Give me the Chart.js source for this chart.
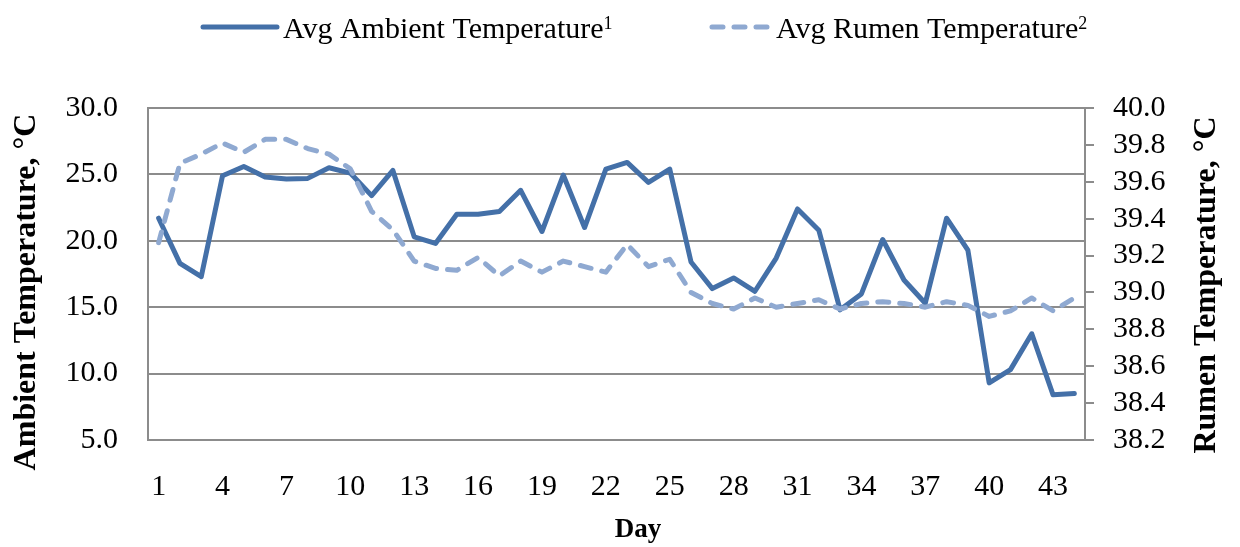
<!DOCTYPE html>
<html>
<head>
<meta charset="utf-8">
<title>Ambient and rumen temperature</title>
<script src="https://cdn.jsdelivr.net/npm/chart.js@4/dist/chart.umd.min.js"></script>
<style>
  html, body { margin: 0; padding: 0; background: #ffffff; }
  #wrap { width: 1240px; height: 547px; }
</style>
</head>
<body>
<div id="wrap"><canvas id="tempChart" width="1240" height="547"></canvas></div>
<script>
// Data
const days = [1, 2, 3, 4, 5, 6, 7, 8, 9, 10, 11, 12, 13, 14, 15, 16, 17, 18, 19, 20, 21, 22,
  23, 24, 25, 26, 27, 28, 29, 30, 31, 32, 33, 34, 35, 36, 37, 38, 39, 40, 41, 42, 43, 44];
const ambientTemp = [21.7, 18.3, 17.3, 24.9, 25.6, 24.8, 24.65, 24.7, 25.5, 25.1, 23.4, 25.3,
  20.3, 19.8, 22.0, 22.0, 22.2, 23.8, 20.7, 24.95, 21.0, 25.4, 25.9, 24.4, 25.4, 18.4, 16.4,
  17.2, 16.2, 18.7, 22.4, 20.8, 14.8, 16.0, 20.1, 17.05, 15.3, 21.7, 19.3, 9.3, 10.3, 13.0, 8.4, 8.5];
const rumenTemp = [39.27, 39.70, 39.75, 39.81, 39.76, 39.83, 39.83, 39.78, 39.75, 39.67, 39.44,
  39.34, 39.17, 39.13, 39.12, 39.19, 39.09, 39.17, 39.11, 39.17, 39.14, 39.11, 39.26, 39.14,
  39.18, 39.00, 38.94, 38.91, 38.97, 38.92, 38.94, 38.96, 38.91, 38.94, 38.95, 38.94, 38.92,
  38.95, 38.93, 38.87, 38.90, 38.97, 38.90, 38.97];
const seriesLabels = ["Avg Ambient Temperature", "Avg Rumen Temperature"];
const seriesNotes = ["1", "2"];
const ambientTicks = { min: 5, max: 30, step: 5 };
const rumenTicks = { min: 38.2, max: 40, step: 0.2 };
const axisTitles = { left: "Ambient Temperature, °C", right: "Rumen Temperature, °C", bottom: "Day" };

const SERIF = '"Liberation Serif", "Times New Roman", serif';
const GRID = "#8c8c8c";
const AMBIENT_COLOR = "#4470a8";
const RUMEN_COLOR = "#8fa9d1";

// Legend drawn on the canvas, with superscript notes
const legendPlugin = {
  id: "topLegend",
  afterDraw(chart) {
    const ctx = chart.ctx;
    const items = [
      { x0: 203, x1: 277 },
      { x0: 712, x1: 770 }
    ];
    const y = 27;
    ctx.save();
    items.forEach((item, i) => {
      const ds = chart.data.datasets[i];
      ctx.strokeStyle = ds.borderColor;
      ctx.lineWidth = 5;
      ctx.lineCap = "round";
      ctx.setLineDash(ds.borderDash || []);
      ctx.beginPath();
      ctx.moveTo(item.x0, y);
      ctx.lineTo(item.x1, y);
      ctx.stroke();
      ctx.setLineDash([]);

      ctx.fillStyle = "#000000";
      ctx.textBaseline = "alphabetic";
      ctx.textAlign = "left";
      ctx.font = "30px " + SERIF;
      const tx = item.x1 + 6;
      ctx.fillText(seriesLabels[i], tx, 38);
      const w = ctx.measureText(seriesLabels[i]).width;
      ctx.font = "18px " + SERIF;
      ctx.fillText(seriesNotes[i], tx + w, 29);
    });
    ctx.restore();
  }
};

// Axis titles placed like the reference (both vertical titles read upward)
const titlePlugin = {
  id: "axisTitles",
  afterDraw(chart) {
    const ctx = chart.ctx;
    ctx.save();
    ctx.fillStyle = "#000000";
    ctx.textAlign = "center";
    ctx.textBaseline = "middle";
    ctx.font = "bold 32px " + SERIF;

    ctx.save();
    ctx.translate(27, 292);
    ctx.rotate(-Math.PI / 2);
    ctx.fillText(axisTitles.left, 0, 0);
    ctx.restore();

    ctx.save();
    ctx.translate(1207, 285);
    ctx.rotate(-Math.PI / 2);
    ctx.fillText(axisTitles.right, 0, 0);
    ctx.restore();

    ctx.font = "bold 27px " + SERIF;
    ctx.fillText(axisTitles.bottom, 638, 530);
    ctx.restore();
  }
};

const chart = new Chart(document.getElementById("tempChart").getContext("2d"), {
  type: "line",
  data: {
    labels: days,
    datasets: [
      {
        label: seriesLabels[0],
        data: ambientTemp,
        yAxisID: "y",
        borderColor: AMBIENT_COLOR,
        backgroundColor: AMBIENT_COLOR,
        borderWidth: 5,
        borderCapStyle: "round",
        borderJoinStyle: "round",
        pointRadius: 0,
        tension: 0,
        order: 1
      },
      {
        label: seriesLabels[1],
        data: rumenTemp,
        yAxisID: "y1",
        borderColor: RUMEN_COLOR,
        backgroundColor: RUMEN_COLOR,
        borderWidth: 5,
        borderDash: [11, 11],
        borderCapStyle: "round",
        borderJoinStyle: "round",
        pointRadius: 0,
        tension: 0,
        order: 0
      }
    ]
  },
  options: {
    responsive: false,
    animation: false,
    devicePixelRatio: 1,
    layout: { padding: { top: 108, left: 0, right: 0, bottom: 0 } },
    plugins: {
      legend: { display: false },
      tooltip: { enabled: false },
      title: { display: false }
    },
    scales: {
      x: {
        type: "category",
        offset: true,
        grid: { display: false, drawTicks: false },
        border: { display: true, color: GRID, width: 2 },
        ticks: {
          autoSkip: false,
          maxRotation: 0,
          padding: 29,
          color: "#000000",
          font: { family: SERIF, size: 30 },
          callback: function (value, index) {
            return index % 3 === 0 ? this.getLabelForValue(value) : "";
          }
        },
        afterFit: (scale) => { scale.height = 107; }
      },
      y: {
        position: "left",
        min: ambientTicks.min,
        max: ambientTicks.max,
        grid: { color: GRID, lineWidth: 2, drawTicks: false },
        border: { display: true, color: GRID, width: 2 },
        ticks: {
          stepSize: ambientTicks.step,
          autoSkip: false,
          padding: 30,
          color: "#000000",
          font: { family: SERIF, size: 30 },
          callback: (v) => Number(v).toFixed(1)
        },
        afterFit: (scale) => { scale.width = 148; }
      },
      y1: {
        position: "right",
        min: rumenTicks.min,
        max: rumenTicks.max,
        grid: { drawOnChartArea: false, color: GRID, lineWidth: 2, tickLength: 9 },
        border: { display: true, color: GRID, width: 2 },
        ticks: {
          stepSize: rumenTicks.step,
          autoSkip: false,
          padding: 19,
          color: "#000000",
          font: { family: SERIF, size: 30 },
          callback: (v) => Number(v).toFixed(1)
        },
        afterFit: (scale) => { scale.width = 155; }
      }
    }
  },
  plugins: [legendPlugin, titlePlugin]
});
</script>
</body>
</html>
